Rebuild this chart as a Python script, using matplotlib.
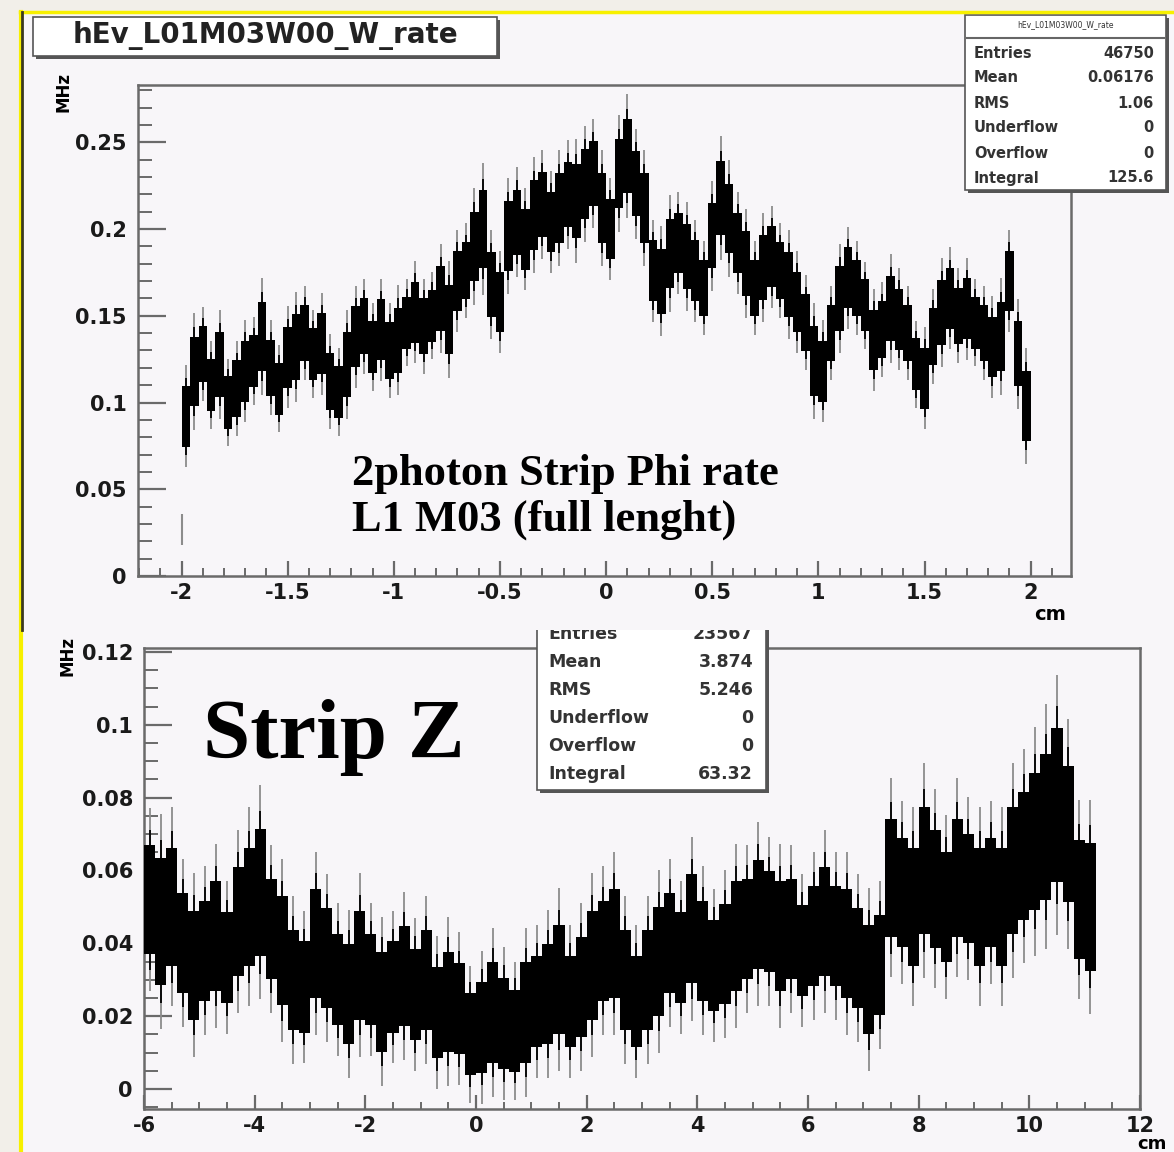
import matplotlib.pyplot as plt
from matplotlib.patches import Rectangle
from matplotlib.ticker import MultipleLocator, FuncFormatter
import numpy as np

W, H = 1174, 1152

# top histogram: 2photon strip phi rate (MHz), 0.04 cm bins from -2 to 2
phi_start, phi_width = -2.0, 0.04
phi_rate = [
    0.092, 0.118, 0.128, 0.110, 0.122, 0.100, 0.108, 0.118, 0.124, 0.138,
    0.120, 0.108, 0.126, 0.132, 0.140, 0.128, 0.134, 0.112, 0.106, 0.122,
    0.138, 0.144, 0.132, 0.142, 0.130, 0.136, 0.146, 0.152, 0.144, 0.150,
    0.160, 0.148, 0.170, 0.176, 0.190, 0.200, 0.168, 0.158, 0.196, 0.204,
    0.194, 0.208, 0.214, 0.204, 0.212, 0.220, 0.216, 0.226, 0.232, 0.212,
    0.200, 0.232, 0.242, 0.226, 0.212, 0.176, 0.170, 0.186, 0.192, 0.184,
    0.176, 0.166, 0.196, 0.218, 0.206, 0.192, 0.180, 0.166, 0.178, 0.184,
    0.176, 0.168, 0.158, 0.146, 0.124, 0.118, 0.140, 0.160, 0.172, 0.166,
    0.156, 0.136, 0.142, 0.154, 0.148, 0.140, 0.122, 0.114, 0.138, 0.152,
    0.160, 0.150, 0.154, 0.146, 0.140, 0.132, 0.138, 0.170, 0.128, 0.098,
]
phi_err = [
    0.014, 0.016, 0.013, 0.012, 0.015, 0.012, 0.013, 0.014, 0.012, 0.016,
    0.013, 0.012, 0.014, 0.015, 0.013, 0.012, 0.014, 0.013, 0.012, 0.015,
    0.014, 0.013, 0.012, 0.014, 0.013, 0.015, 0.012, 0.014, 0.013, 0.012,
    0.015, 0.016, 0.014, 0.013, 0.016, 0.018, 0.015, 0.014, 0.016, 0.015,
    0.014, 0.016, 0.015, 0.014, 0.016, 0.015, 0.017, 0.016, 0.015, 0.016,
    0.014, 0.016, 0.017, 0.015, 0.016, 0.014, 0.015, 0.016, 0.014, 0.015,
    0.014, 0.013, 0.015, 0.017, 0.016, 0.014, 0.015, 0.013, 0.015, 0.014,
    0.013, 0.015, 0.014, 0.013, 0.016, 0.014, 0.013, 0.015, 0.014, 0.013,
    0.012, 0.014, 0.013, 0.015, 0.014, 0.013, 0.012, 0.014, 0.013, 0.015,
    0.014, 0.013, 0.014, 0.012, 0.013, 0.014, 0.016, 0.014, 0.015, 0.016,
]
# lone entry sitting at the left edge of the phi histogram
phi_edge_x = [-2.0]
phi_edge_rate = [0.027]
phi_edge_err = [0.009]

# bottom histogram: strip z rate (MHz), 0.2 cm bins from -6 to 11.2
z_start, z_width = -6.0, 0.2
z_rate = [
    0.052, 0.046, 0.050, 0.040, 0.034, 0.038, 0.042, 0.036, 0.046, 0.050,
    0.054, 0.044, 0.038, 0.030, 0.028, 0.040, 0.036, 0.030, 0.026, 0.034,
    0.030, 0.024, 0.028, 0.031, 0.026, 0.030, 0.021, 0.024, 0.022, 0.015,
    0.017, 0.021, 0.018, 0.016, 0.021, 0.024, 0.026, 0.030, 0.024, 0.028,
    0.034, 0.038, 0.040, 0.030, 0.024, 0.030, 0.035, 0.040, 0.036, 0.044,
    0.038, 0.034, 0.037, 0.042, 0.044, 0.048, 0.046, 0.042, 0.044, 0.038,
    0.042, 0.046, 0.042, 0.040, 0.036, 0.030, 0.034, 0.058, 0.054, 0.050,
    0.060, 0.055, 0.050, 0.058, 0.055, 0.050, 0.054, 0.050, 0.060, 0.064,
    0.068, 0.072, 0.078, 0.070, 0.052, 0.050,
]
z_err = [
    0.012, 0.014, 0.013, 0.011, 0.012, 0.011, 0.012, 0.010, 0.012, 0.013,
    0.014, 0.011, 0.012, 0.011, 0.010, 0.012, 0.011, 0.010, 0.011, 0.012,
    0.010, 0.011, 0.010, 0.011, 0.010, 0.011, 0.010, 0.011, 0.010, 0.009,
    0.010, 0.011, 0.010, 0.009, 0.011, 0.010, 0.011, 0.012, 0.010, 0.011,
    0.012, 0.011, 0.012, 0.011, 0.010, 0.011, 0.012, 0.011, 0.010, 0.012,
    0.011, 0.010, 0.011, 0.012, 0.011, 0.012, 0.011, 0.012, 0.011, 0.010,
    0.011, 0.012, 0.011, 0.012, 0.011, 0.012, 0.011, 0.013, 0.012, 0.013,
    0.014, 0.013, 0.012, 0.013, 0.012, 0.013, 0.012, 0.013, 0.014, 0.014,
    0.015, 0.016, 0.017, 0.015, 0.013, 0.014,
]

phi_stats = [("Entries", "46750"), ("Mean", "0.06176"), ("RMS", "1.06"),
             ("Underflow", "0"), ("Overflow", "0"), ("Integral", "125.6")]
z_stats = [("Entries", "23567"), ("Mean", "3.874"), ("RMS", "5.246"),
           ("Underflow", "0"), ("Overflow", "0"), ("Integral", "63.32")]

plt.rcParams["font.family"] = ["DejaVu Sans"]
SERIF = ["Liberation Serif", "DejaVu Serif"]

CREAM = "#f2efe9"
CANVAS = "#f8f6f9"
FRAME = "#6a6a6a"


def fx(px):
    return px / W


def fy(py):
    return 1 - py / H


def fig_rect(fig, x0, y0, x1, y1, **kw):
    r = Rectangle((fx(x0), fy(y1)), fx(x1) - fx(x0), fy(y0) - fy(y1),
                  transform=fig.transFigure, **kw)
    fig.patches.append(r)
    return r


def draw_hist(ax, start, width, rate, err):
    centers = start + width * (np.arange(len(rate)) + 0.5)
    rate = np.array(rate)
    err = np.array(err)
    ax.vlines(centers, rate - 2.1 * err, rate + 2.1 * err, color="#8c8c8c", lw=1.3, zorder=2)
    ax.vlines(centers, rate - 1.6 * err, rate + 1.6 * err, color="black", lw=1.3, zorder=3)
    ax.bar(centers, 2.5 * err, bottom=rate - 1.25 * err, width=width, color="black",
           linewidth=0, zorder=3)


def style_axis(ax, ymajor, yminor, xmajor, xminor, ylen, xlen):
    for side in ["left", "bottom", "top", "right"]:
        ax.spines[side].set_color(FRAME)
        ax.spines[side].set_linewidth(1.8)
    ax.yaxis.set_major_locator(MultipleLocator(ymajor))
    ax.yaxis.set_minor_locator(MultipleLocator(yminor))
    ax.xaxis.set_major_locator(MultipleLocator(xmajor))
    ax.xaxis.set_minor_locator(MultipleLocator(xminor))
    fmt = FuncFormatter(lambda v, p: "%g" % round(v, 4))
    ax.yaxis.set_major_formatter(fmt)
    ax.xaxis.set_major_formatter(fmt)
    ax.tick_params(axis="y", which="major", direction="in", length=ylen, width=1.6,
                   color=FRAME, labelsize=15, pad=8)
    ax.tick_params(axis="y", which="minor", direction="in", length=ylen * 0.5, width=1.4,
                   color=FRAME)
    ax.tick_params(axis="x", which="major", direction="in", length=xlen, width=1.6,
                   color=FRAME, labelsize=15, pad=5)
    ax.tick_params(axis="x", which="minor", direction="in", length=xlen * 0.5, width=1.4,
                   color=FRAME)
    for lab in ax.get_xticklabels() + ax.get_yticklabels():
        lab.set_fontweight("bold")
        lab.set_color("#1a1a1a")


def stats_box(fig, x0, y0, x1, y1, rows, row_y, lab_x, val_x, z, size=10.5):
    fig_rect(fig, x0 + 3, y0 + 3, x1 + 3, y1 + 3, facecolor="#555555", edgecolor="none", zorder=z)
    fig_rect(fig, x0, y0, x1, y1, facecolor="white", edgecolor="#555555", lw=1.2, zorder=z + 0.1)
    for (lab, val), ry in zip(rows, row_y):
        fig.text(fx(lab_x), fy(ry), lab, ha="left", va="center", fontsize=size,
                 fontweight="bold", color="#333333", zorder=z + 0.2)
        fig.text(fx(val_x), fy(ry), val, ha="right", va="center", fontsize=size,
                 fontweight="bold", color="#333333", zorder=z + 0.2)


fig = plt.figure(figsize=(W / 100, H / 100), dpi=100)
fig.patch.set_facecolor(CREAM)

# canvases
fig_rect(fig, 20, 630, 1174, 1152, facecolor=CANVAS, edgecolor="none", zorder=-5)

# ---- bottom panel (strip Z) ----
ax2 = fig.add_axes([fx(144), fy(1109), fx(1140) - fx(144), fy(648) - fy(1109)], zorder=1)
ax2.set_facecolor(CANVAS)
draw_hist(ax2, z_start, z_width, z_rate, z_err)
ax2.set_xlim(-6, 12)
ax2.set_ylim(-0.0055, 0.1211)
style_axis(ax2, 0.02, 0.005, 2, 0.5, 20, 10)
fig.text(fx(1152), fy(1144), "cm", ha="center", va="center", fontsize=13, fontweight="bold")
fig.text(fx(68), fy(656), "MHz", ha="center", va="center", rotation=90, fontsize=12,
         fontweight="bold")
fig.text(fx(203), fy(738), "Strip Z", ha="left", va="center", fontsize=61,
         fontweight="bold", family=SERIF)

stats_box(fig, 537, 600, 766, 790, z_stats, [634, 662, 690, 718, 746, 774], 548, 753, 5,
          size=12.5)

# top canvas covers the top of the lower stats box
fig_rect(fig, 20, 12, 1174, 630, facecolor=CANVAS, edgecolor="none", zorder=8)

# ---- top panel (strip phi) ----
ax1 = fig.add_axes([fx(138), fy(576), fx(1071) - fx(138), fy(85) - fy(576)], zorder=9)
ax1.set_facecolor(CANVAS)
draw_hist(ax1, phi_start, phi_width, phi_rate, phi_err)
ax1.vlines(phi_edge_x, np.array(phi_edge_rate) - np.array(phi_edge_err),
           np.array(phi_edge_rate) + np.array(phi_edge_err), color="#8c8c8c", lw=1.5)
ax1.set_xlim(-2.205, 2.19)
ax1.set_ylim(0, 0.283)
style_axis(ax1, 0.05, 0.01, 0.5, 0.1, 20, 11)
fig.text(fx(1050), fy(615), "cm", ha="center", va="center", fontsize=14, fontweight="bold",
         zorder=10)
fig.text(fx(64), fy(92), "MHz", ha="center", va="center", rotation=90, fontsize=12,
         fontweight="bold", zorder=10)
fig.text(fx(352), fy(497), "2photon Strip Phi rate\nL1 M03 (full lenght)", ha="left",
         va="center", fontsize=32, fontweight="bold", linespacing=1.2,
         family=SERIF, zorder=10)

# title box
fig_rect(fig, 36, 20, 500, 59, facecolor="#555555", edgecolor="none", zorder=10)
fig_rect(fig, 33, 17, 497, 56, facecolor="white", edgecolor="#555555", lw=1.2, zorder=10.1)
fig.text(fx(265), fy(36), "hEv_L01M03W00_W_rate", ha="center", va="center", fontsize=20,
         fontweight="bold", color="#222222", zorder=10.2)

stats_box(fig, 965, 15, 1166, 190, phi_stats, [53, 78, 103, 128, 153, 178], 974, 1154, 11,
          size=10.5)
fig.text(fx(1065), fy(25), "hEv_L01M03W00_W_rate", ha="center", va="center", fontsize=5.5,
         color="#333333", zorder=11.2)
fig.lines.append(plt.Line2D([fx(967), fx(1164)], [fy(38), fy(38)], transform=fig.transFigure,
                            color="#666666", lw=1.5, zorder=11.2))

# yellow / dark frame lines
fig.lines.append(plt.Line2D([fx(20), fx(1174)], [fy(12), fy(12)], transform=fig.transFigure,
                            color="#f7f000", lw=2.5, zorder=12))
fig.lines.append(plt.Line2D([fx(21), fx(21)], [fy(12), fy(1152)], transform=fig.transFigure,
                            color="#f7f000", lw=3, zorder=12))
fig.lines.append(plt.Line2D([fx(22), fx(22)], [fy(12), fy(630)], transform=fig.transFigure,
                            color="#3c3a20", lw=2, zorder=12))

fig.savefig("out.png", dpi=100, facecolor=CREAM)
